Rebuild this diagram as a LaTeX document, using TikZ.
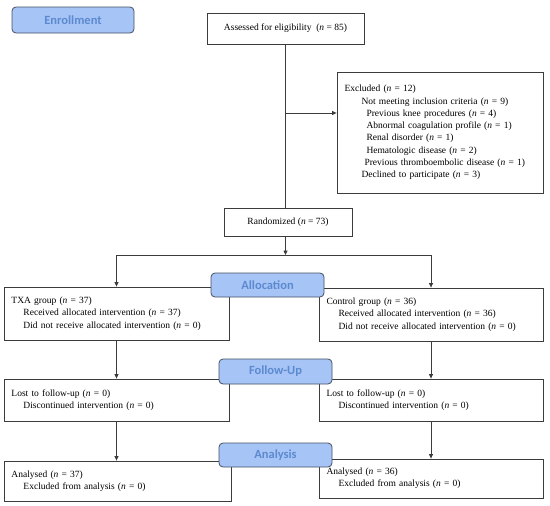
\documentclass[tikz,border=0pt]{standalone}
\usepackage{fontspec}
\setmainfont{Liberation Serif}
\newfontfamily\phasefont{Carlito}
\usepackage{xcolor}
\usepackage{tikz}
\usetikzlibrary{arrows.meta,positioning,calc}
\definecolor{phasefill}{RGB}{166,196,245}
\definecolor{phaseedge}{RGB}{70,80,98}
\definecolor{phasetext}{RGB}{92,138,208}
\definecolor{boxedge}{RGB}{60,60,60}
\newcommand{\nn}[1]{(\textit{n} = #1)}
\tikzset{
  phaselabel/.style={draw=phaseedge,fill=phasefill,rounded corners=4pt,line width=0.8pt,
    minimum width=113pt,minimum height=24pt,inner sep=0pt,
    font=\phasefont\bfseries\fontsize{12.5}{14}\selectfont,text=phasetext},
  flowbox/.style={draw=boxedge,line width=0.8pt,inner xsep=7.5pt,inner ysep=0pt,
    text width=#1-15pt,align=left,font=\fontsize{9.5}{12.3}\selectfont},
  midbox/.style={draw=boxedge,line width=0.8pt,inner sep=0pt,align=center,
    font=\fontsize{9.5}{12.3}\selectfont}
}

\begin{document}
\begin{tikzpicture}[x=1pt,y=-1pt,
  arrow/.style={-{Triangle[length=4.5pt,width=4pt]},boxedge,line width=0.8pt}
]
  \useasboundingbox (0,0) rectangle (550,506);
  % boxes
  \node[midbox,minimum width=157pt,minimum height=31pt] (assess) at (285.5,28.5) {Assessed for eligibility\ \ \nn{85}};
  \node[flowbox=206pt,minimum height=121pt] (excl) at (440,132.5) {Excluded \nn{12}\\
    \hspace*{17pt}Not meeting inclusion criteria \nn{9}\\
    \hspace*{22pt}Previous knee procedures \nn{4}\\
    \hspace*{22pt}Abnormal coagulation profile \nn{1}\\
    \hspace*{22pt}Renal disorder \nn{1}\\
    \hspace*{22pt}Hematologic disease \nn{2}\\
    \hspace*{20pt}Previous thromboembolic disease \nn{1}\\
    \hspace*{17pt}Declined to participate \nn{3}};
  \node[midbox,minimum width=128pt,minimum height=28pt] (rand) at (288,222) {Randomized \nn{73}};
  \node[flowbox=225pt,minimum height=53pt] (txa) at (116.5,313.5) {TXA group \nn{37}\\
    \hspace*{12pt}Received allocated intervention \nn{37}\\
    \hspace*{12pt}Did not receive allocated intervention \nn{0}};
  \node[flowbox=224pt,minimum height=53pt] (ctrl) at (431,314.5) {Control group \nn{36}\\
    \hspace*{12pt}Received allocated intervention \nn{36}\\
    \hspace*{12pt}Did not receive allocated intervention \nn{0}};
  \node[flowbox=225pt,minimum height=42pt] (lostL) at (116.5,400) {Lost to follow-up \nn{0}\\
    \hspace*{12pt}Discontinued intervention \nn{0}};
  \node[flowbox=224pt,minimum height=42pt] (lostR) at (431,400) {Lost to follow-up \nn{0}\\
    \hspace*{12pt}Discontinued intervention \nn{0}};
  \node[flowbox=227pt,minimum height=40pt] (anaL) at (117.5,481) {Analysed \nn{37}\\
    \hspace*{12pt}Excluded from analysis \nn{0}};
  \node[flowbox=224pt,minimum height=39pt] (anaR) at (431,478.5) {Analysed \nn{36}\\
    \hspace*{12pt}Excluded from analysis \nn{0}};
  % connectors
  \coordinate (exclsplit) at (285.5,113);
  \coordinate (split) at (285.5,255);
  \draw[boxedge,line width=0.8pt] (assess) -- (assess |- rand.north);
  \draw[arrow] (exclsplit) -- (exclsplit -| excl.west);
  \draw[arrow] (rand.south -| split) -- (split);
  \draw[arrow] (split) -| (txa);
  \draw[arrow] (split) -| (ctrl);
  \draw[arrow] (txa) -- (lostL);
  \draw[arrow] (ctrl) -- (lostR);
  \draw[arrow] (lostL.south) -- (lostL.south |- anaL.north);
  \draw[arrow] (lostR) -- (lostR |- anaR.north);
  % phase labels
  \node[phaselabel,minimum width=122pt,minimum height=26pt] (enroll) at (73,20) {Enrollment};
  \node[phaselabel] (alloc) at (267.5,285) {Allocation};
  \node[phaselabel,minimum height=25pt] (follow) at (275.5,371.5) {Follow-Up};
  \node[phaselabel] (analysis) at (275.5,455) {Analysis};
\end{tikzpicture}
\end{document}
